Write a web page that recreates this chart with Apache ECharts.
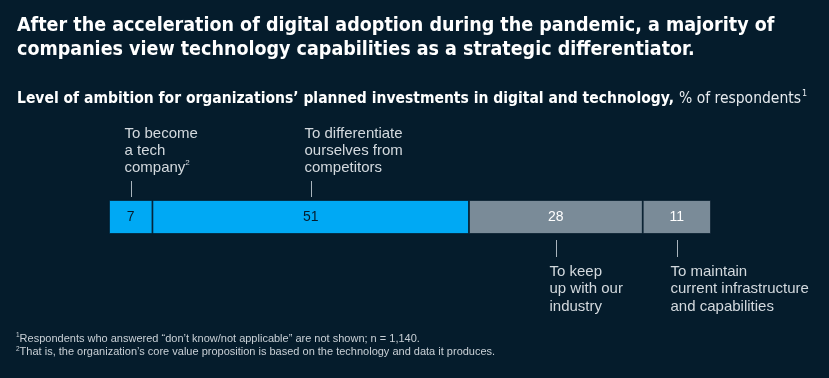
<!DOCTYPE html>
<html><head><meta charset="utf-8">
<script src="https://cdn.jsdelivr.net/npm/echarts@6/dist/echarts.min.js"></script>
<style>html,body{margin:0;padding:0;background:#051C2C;}#c{width:829px;height:378px;}</style>
</head><body><div id="c"></div>
<script>
const categories = ['Level of ambition'];
const segmentNames = ['To become a tech company', 'To differentiate ourselves from competitors', 'To keep up with our industry', 'To maintain current infrastructure and capabilities'];
const segmentValues = [7, 51, 28, 11];
const annotationLines = [
  ['To become', 'a tech', 'company{sup|2}'],
  ['To differentiate', 'ourselves from', 'competitors'],
  ['To keep', 'up with our', 'industry'],
  ['To maintain', 'current infrastructure', 'and capabilities']
];
const annotationSide = ['top', 'top', 'bottom', 'bottom'];

const colors = ['#00A9F4', '#00A9F4', '#7A8B98', '#7A8B98'];
const labelColors = ['#051C2C', '#051C2C', '#FFFFFF', '#FFFFFF'];
const total = segmentValues.reduce((a, b) => a + b, 0);
const starts = segmentValues.map((v, i) => segmentValues.slice(0, i).reduce((a, b) => a + b, 0));

const chart = echarts.init(document.getElementById('c'), null, {renderer: 'canvas'});
const narrow = '"DejaVu Sans", sans-serif';
const body = '"Liberation Sans", Arial, sans-serif';

const barSeries = segmentValues.map((v, i) => ({
  name: segmentNames[i],
  type: 'bar',
  stack: 'total',
  barWidth: '100%',
  data: [v],
  itemStyle: {color: colors[i], borderColor: '#051C2C', borderWidth: 0.8},
  label: {show: true, position: 'inside', color: labelColors[i], fontFamily: body, fontSize: 14},
  silent: true
}));

const annoSeries = {
  type: 'custom',
  silent: true,
  data: segmentValues.map((v, i) => [starts[i] + v / 2, 0, i]),
  encode: {x: 0, y: 1},
  renderItem: function (params, api) {
    const i = api.value(2);
    const pt = api.coord([api.value(0), categories[0]]);
    const size = api.size([0, 1]);
    const top = pt[1] - size[1] / 2;
    const bot = pt[1] + size[1] / 2;
    const x = Math.round(pt[0]) + 0.5;
    const up = annotationSide[i] === 'top';
    const y1 = up ? top - 19 : bot + 6;
    const y2 = up ? top - 3 : bot + 23;
    const txt = annotationLines[i].join('\n');
    const lh = up ? 17 : 17.5;
    return {
      type: 'group',
      children: [
        {type: 'line', shape: {x1: x, y1: y1, x2: x, y2: y2}, style: {stroke: '#A9B4BD', lineWidth: 1}},
        {type: 'text', style: {
          text: txt, x: x - 7, y: up ? y1 - 5 : y2 + 6,
          verticalAlign: up ? 'bottom' : 'top', align: 'left',
          fill: '#D3D9DE', font: '15px ' + body, lineHeight: lh,
          rich: {sup: {fontSize: 8, fill: '#D3D9DE', verticalAlign: 'top', lineHeight: lh, padding: [0, 0, 6, 0]}}
        }}
      ]
    };
  }
};

chart.setOption({
  backgroundColor: '#051C2C',
  animation: false,
  title: [
    {text: 'After the acceleration of digital adoption during the pandemic, a majority of\ncompanies view technology capabilities as a strategic differentiator.',
     left: 17, top: 14, padding: 0, textStyle: {color: '#FFFFFF', fontFamily: narrow, fontWeight: 'bold condensed', fontSize: 19.5, lineHeight: 24}},
    {text: '{b|Level of ambition for organizations’ planned investments in digital and technology,} {r|% of respondents}{s|1}',
     left: 17, top: 90, padding: 0, textStyle: {rich: {
       b: {color: '#FFFFFF', fontFamily: narrow, fontWeight: 'bold condensed', fontSize: 15.5},
       r: {color: '#E6EAEE', fontFamily: narrow, fontWeight: 'normal condensed', fontSize: 15.5},
       s: {color: '#E6EAEE', fontFamily: narrow, fontWeight: 'normal', fontSize: 8, verticalAlign: 'top', padding: [0, 0, 8, 1]}
     }}},
    {text: '{s|1}Respondents who answered “don’t know/not applicable” are not shown; n = 1,140.\n{s|2}That is, the organization’s core value proposition is based on the technology and data it produces.',
     left: 16, top: 332, padding: 0, textStyle: {color: '#C9D0D6', fontFamily: body, fontWeight: 'normal', fontSize: 11, lineHeight: 13.5,
       rich: {s: {fontSize: 6.5, fontWeight: 'normal', color: '#C9D0D6', verticalAlign: 'top', padding: [0, 0, 5, 0], lineHeight: 13.5}}}}
  ],
  grid: {left: 109, right: 118, top: 200, bottom: 144, containLabel: false},
  xAxis: {type: 'value', min: 0, max: total, show: false},
  yAxis: {type: 'category', data: categories, show: false},
  series: barSeries.concat([annoSeries])
});
</script></body></html>
